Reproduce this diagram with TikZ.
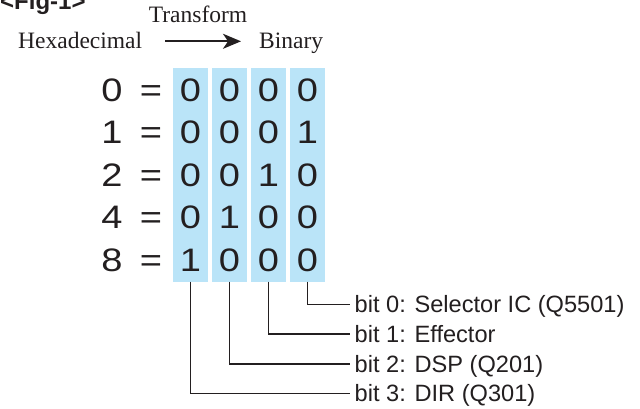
\documentclass[tikz,border=0pt]{standalone}
\usepackage{fontspec}
\setmainfont{Liberation Serif}
\setsansfont{Liberation Sans}
\newfontfamily\bigdig[FakeStretch=1.17]{Liberation Sans}
\usetikzlibrary{arrows.meta}
\definecolor{ink}{HTML}{231F20}
\definecolor{colblue}{RGB}{186,228,248}
\begin{document}
\begin{tikzpicture}[x=1pt,y=-1pt,
  every node/.style={text=ink},
  colbox/.style={fill=colblue,draw=none,minimum width=35pt,minimum height=214pt,inner sep=0pt},
  serifl/.style={font=\rmfamily\fontsize{23.5}{28}\selectfont,inner sep=0pt},
  digit/.style={font=\bigdig\fontsize{32.5}{38}\selectfont,inner sep=0pt,anchor=base},
  bitlabel/.style={font=\sffamily\fontsize{23.6}{28}\selectfont,anchor=west,inner xsep=4.5pt,inner ysep=0pt,text height=16.6pt,text depth=0pt},
  conn/.style={draw=ink,line width=1.1pt},
  arr/.style={draw=ink,line width=1.7pt,-{Stealth[length=18pt,width=15pt,inset=5pt]}},
  figlabel/.style={font=\sffamily\bfseries\fontsize{24}{28}\selectfont,inner sep=0pt,anchor=base west}
]
\useasboundingbox (0,0) rectangle (640,408);
\clip (0,0) rectangle (640,408);
\fill[white] (0,0) rectangle (640,408);

\node[figlabel] (fig) at (0,9.5) {<Fig-1>};

\node[serifl,anchor=base] (tr) at (198,22.7) {Transform};
\node[serifl,anchor=base west] (hex) at (18,48) {Hexadecimal};
\node[serifl,anchor=base west] (bin) at (259,48) {Binary};
\coordinate (a1) at (165,41.3);
\coordinate (a2) at (241,41.3);
\draw[arr] (a1) -- (a2);

\foreach \i/\x in {1/190.5,2/229.5,3/268.5,4/307.5}
  \node[colbox] (c\i) at (\x,174.5) {};

\foreach \h/\a/\b/\c/\d [count=\r from 0] in {0/0/0/0/0,1/0/0/0/1,2/0/0/1/0,4/0/1/0/0,8/1/0/0/0}{
  \pgfmathsetmacro\yb{101.3+42.5*\r}
  \node[digit] (h\r) at (112,\yb) {\h};
  \node[digit] (e\r) at (151,\yb) {=};
  \node[digit] (r\r a) at (190.5,\yb) {\a};
  \node[digit] (r\r b) at (229.5,\yb) {\b};
  \node[digit] (r\r c) at (268.5,\yb) {\c};
  \node[digit] (r\r d) at (307.5,\yb) {\d};
}

\node[bitlabel] (b0) at (350,304.5) {bit 0: Selector IC (Q5501)};
\node[bitlabel] (b1) at (350,334) {bit 1: Effector};
\node[bitlabel] (b2) at (350,364) {bit 2: DSP (Q201)};
\node[bitlabel] (b3) at (350,393.5) {bit 3: DIR (Q301)};

\draw[conn] (c4.south) |- (b0.west);
\draw[conn] (c3.south) |- (b1.west);
\draw[conn] (c2.south) |- (b2.west);
\draw[conn] (c1.south) |- (b3.west);
\end{tikzpicture}
\end{document}
